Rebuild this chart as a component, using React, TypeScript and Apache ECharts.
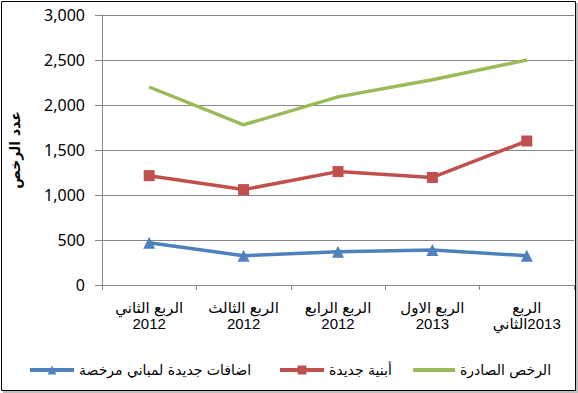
import React, { useEffect, useRef } from "react";
import * as echarts from "echarts";

const categories = [
  "الربع الثاني\n2012",
  "الربع الثالث\n2012",
  "الربع الرابع\n2012",
  "الربع الاول\n2013",
  "الربع\nالثاني\u200E2013",
];
const seriesNames = [
  "اضافات جديدة لمباني مرخصة",
  "أبنية جديدة",
  "الرخص الصادرة",
];
const additionsValues = [470, 325, 370, 390, 325];
const newBuildingsValues = [1215, 1060, 1260, 1195, 1600];
const permitsValues = [2200, 1780, 2090, 2280, 2500];
const yAxisName = "عدد الرخص";

export default function App() {
  const ref = useRef<HTMLDivElement>(null);
  useEffect(() => {
    if (!ref.current) return;
    const chart = echarts.init(ref.current, undefined, { renderer: "svg" });
    const legendText = {
      fontFamily: "DejaVu Sans, Liberation Sans, sans-serif",
      fontSize: 14,
      color: "#000",
    };
    const legendCommon = {
      orient: "horizontal",
      top: 363,
      itemWidth: 44,
      itemHeight: 11,
      itemGap: 4,
      textStyle: legendText,
      lineStyle: { width: 4 },
      padding: 0,
    };
    chart.setOption({
      animation: false,
      backgroundColor: "#fff",
      graphic: [
        {
          type: "rect",
          shape: { x: 3, y: 3, width: 575, height: 390 },
          style: { fill: "#bdbdbd" },
          z: -10,
          silent: true,
        },
        {
          type: "rect",
          shape: { x: 1.5, y: 1.5, width: 574, height: 389 },
          style: { fill: "#fff", stroke: "#000", lineWidth: 1 },
          z: -9,
          silent: true,
        },
      ],
      legend: [
        { ...legendCommon, left: 28, data: [seriesNames[0]] },
        { ...legendCommon, left: 278, data: [seriesNames[1]] },
        {
          ...legendCommon,
          left: 411,
          itemWidth: 42,
          itemStyle: { opacity: 0 },
          data: [seriesNames[2]],
        },
      ],
      grid: { left: 97, top: 15, width: 477, height: 270 },
      xAxis: {
        type: "category",
        data: categories,
        boundaryGap: true,
        axisLine: { lineStyle: { color: "#868686", width: 1 } },
        axisTick: { show: true, length: 5, lineStyle: { color: "#868686" } },
        axisLabel: {
          interval: 0,
          margin: 14,
          color: "#000",
          fontFamily: "Liberation Sans, DejaVu Sans, sans-serif",
          fontSize: 15,
          lineHeight: 16,
        },
      },
      yAxis: {
        type: "value",
        min: 0,
        max: 3000,
        interval: 500,
        name: yAxisName,
        nameLocation: "middle",
        nameRotate: 90,
        nameGap: 80,
        nameTextStyle: {
          fontFamily: "DejaVu Sans, sans-serif",
          fontSize: 14,
          fontWeight: "bold",
          color: "#000",
        },
        axisLine: { show: true, lineStyle: { color: "#868686", width: 1 } },
        axisTick: { show: true, length: 7, lineStyle: { color: "#868686" } },
        splitLine: { show: true, lineStyle: { color: "#868686", width: 1 } },
        axisLabel: {
          margin: 17,
          color: "#000",
          fontFamily: "Noto Sans, sans-serif",
          fontSize: 16,
          formatter: (v: number) => v.toLocaleString("en-US"),
        },
      },
      series: [
        {
          name: seriesNames[2],
          type: "line",
          data: permitsValues,
          symbol: "none",
          lineStyle: { color: "#9BBB59", width: 3.5 },
          itemStyle: { color: "#9BBB59" },
        },
        {
          name: seriesNames[1],
          type: "line",
          data: newBuildingsValues,
          symbol: "rect",
          symbolSize: 11,
          lineStyle: { color: "#C0504D", width: 3.5 },
          itemStyle: { color: "#C0504D" },
        },
        {
          name: seriesNames[0],
          type: "line",
          data: additionsValues,
          symbol: "triangle",
          symbolSize: 12,
          lineStyle: { color: "#4F81BD", width: 3.5 },
          itemStyle: { color: "#4F81BD" },
        },
      ],
    });
    return () => chart.dispose();
  }, []);
  return (
    <div
      ref={ref}
      style={{ position: "fixed", left: 0, top: 0, width: 578, height: 393 }}
    />
  );
}
